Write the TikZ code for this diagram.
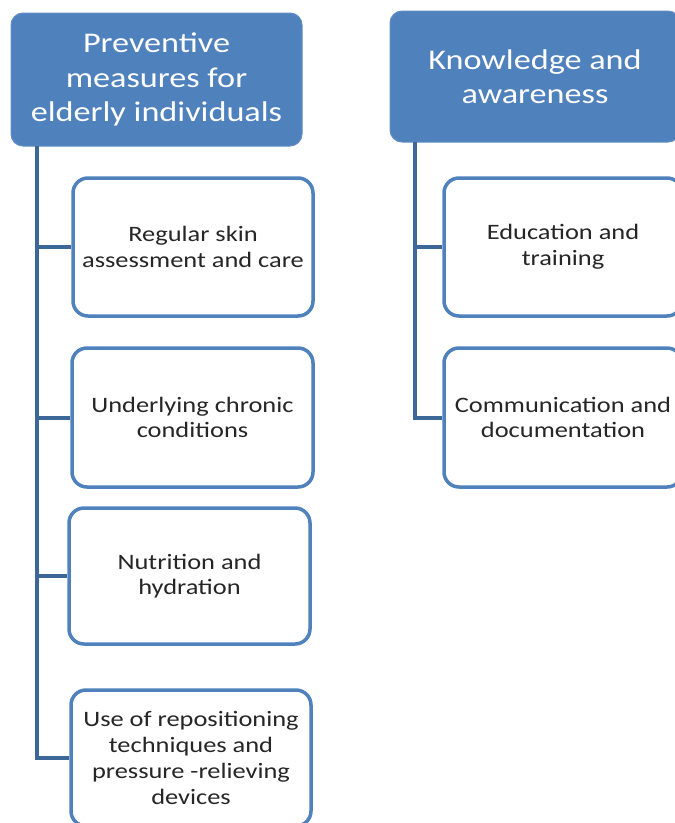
\documentclass[tikz,border=0pt]{standalone}
\usepackage{fontspec}
\setmainfont{Carlito}
\newfontfamily\widefont[FakeStretch=1.2]{Carlito}
\definecolor{hdrblue}{HTML}{4F81BD}
\definecolor{linkblue}{HTML}{3D6797}
\begin{document}
\begin{tikzpicture}[x=1pt,y=-1pt,
  header/.style={draw=hdrblue!90!white,line width=1pt,fill=hdrblue,rounded corners=12pt,text=white,
    font=\widefont\fontsize{28.5}{34.5}\selectfont,align=center,inner sep=0pt},
  item/.style={draw=hdrblue,line width=3.5pt,fill=white,rounded corners=15pt,text=black!85,
    font=\widefont\fontsize{22}{25.7}\selectfont,align=center,inner sep=0pt},
  link/.style={draw=linkblue,line width=4pt}]
\useasboundingbox (0,0) rectangle (675,823);
\clip (0,0) rectangle (675,823);
% left column
\node[header,minimum width=291pt,minimum height=133pt] (h1) at (156.5,79.5) {Preventive\\measures for\\elderly individuals};
\node[item,minimum width=240pt,minimum height=138pt] (a1) at (193,247) {Regular skin\\assessment and care};
\node[item,minimum width=241pt,minimum height=139pt] (a2) at (192.5,417.5) {Underlying chronic\\conditions};
\node[item,minimum width=241pt,minimum height=136pt] (a3) at (189.5,576) {Nutrition and\\hydration};
\node[item,minimum width=240pt,minimum height=136pt] (a4) at (191,758) {Use of repositioning\\techniques and\\pressure -relieving\\devices};
\coordinate (t1) at (37,146);
\coordinate (t1e) at (37,758);
\draw[link] (t1) -- (t1e) -- (a4.west);
\draw[link] (37,247) -- (a1.west);
\draw[link] (37,417.5) -- (a2.west);
\draw[link] (37,576) -- (a3.west);
% right column
\node[header,minimum width=290pt,minimum height=131pt] (h2) at (535,76.5) {Knowledge and\\awareness};
\node[item,minimum width=238pt,minimum height=138pt] (b1) at (563,247) {Education and\\training};
\node[item,minimum width=238pt,minimum height=139pt] (b2) at (563,417.5) {Communication and\\documentation};
\coordinate (t2) at (415,142);
\coordinate (t2e) at (415,417.5);
\draw[link] (t2) -- (t2e) -- (b2.west);
\draw[link] (415,247) -- (b1.west);
\end{tikzpicture}
\end{document}
